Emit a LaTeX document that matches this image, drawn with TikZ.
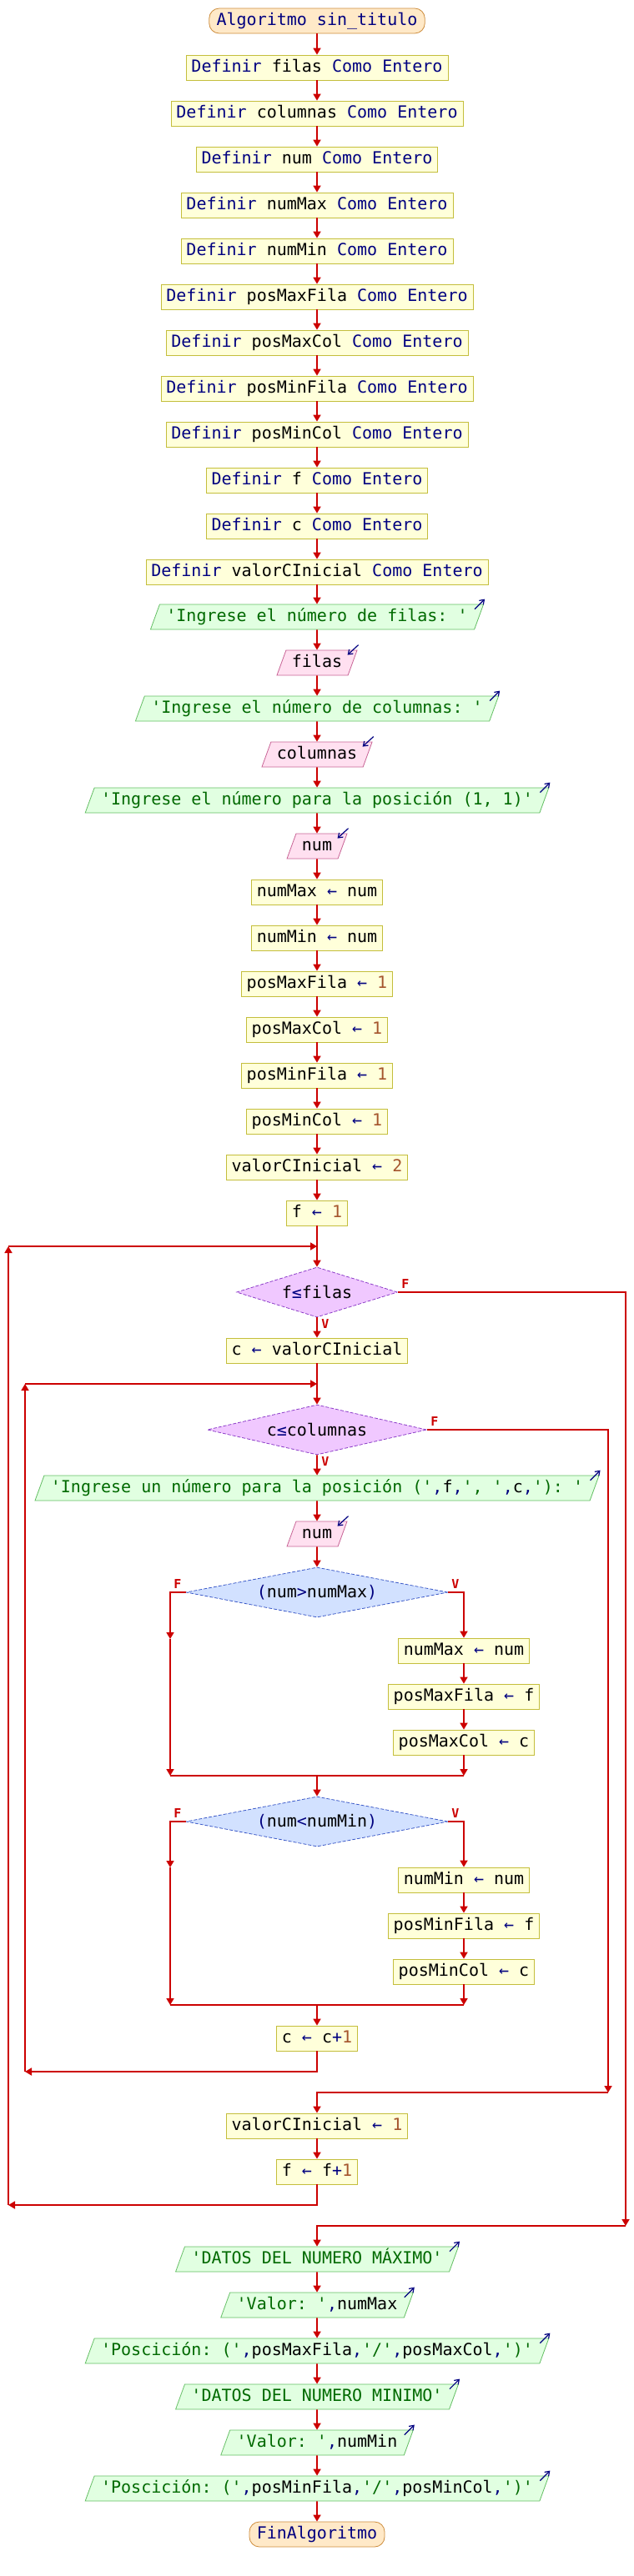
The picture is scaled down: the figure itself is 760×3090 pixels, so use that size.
\documentclass[tikz,border=0pt]{standalone}
\usepackage{fontspec}
\setmonofont{DejaVu Sans Mono}
\usepackage{tikz}
\usetikzlibrary{arrows.meta, shapes.geometric}
\usepackage{xcolor}
\definecolor{flowred}{RGB}{204,0,0}
\definecolor{kwblue}{RGB}{0,0,128}
\definecolor{strgreen}{RGB}{0,105,0}
\definecolor{numbrown}{RGB}{165,85,45}
\definecolor{procfill}{RGB}{255,255,218}
\definecolor{procborder}{RGB}{196,190,60}
\definecolor{termfill}{RGB}{255,233,200}
\definecolor{termborder}{RGB}{205,140,60}
\definecolor{outfill}{RGB}{225,255,225}
\definecolor{outborder}{RGB}{100,190,100}
\definecolor{infill}{RGB}{255,224,240}
\definecolor{inborder}{RGB}{200,100,150}
\definecolor{loopfill}{RGB}{240,200,255}
\definecolor{loopborder}{RGB}{140,60,200}
\definecolor{iffill}{RGB}{210,225,255}
\definecolor{ifborder}{RGB}{60,90,200}
\newcommand{\kwd}[1]{\textcolor{kwblue}{#1}}
\newcommand{\numv}[1]{\textcolor{numbrown}{#1}}
\newcommand{\varn}[1]{\textcolor{black}{#1}}
\newcommand{\asig}{\textcolor{kwblue}{←}}

\begin{document}
\begin{tikzpicture}[x=0.5pt, y=-0.5pt,
  font=\ttfamily,
  base/.style={text height=7.5pt, text depth=2.5pt, inner ysep=2.5pt},
  term/.style={base, draw=termborder, fill=termfill, rounded corners=6pt,
               inner xsep=4.4pt, text=kwblue},
  proc/.style={base, draw=procborder, fill=procfill, inner xsep=3.2pt},
  outp/.style={base, trapezium, trapezium left angle=70, trapezium right angle=110,
               draw=outborder, fill=outfill, inner xsep=4pt, text=strgreen},
  inp/.style={base, trapezium, trapezium left angle=70, trapezium right angle=110,
              draw=inborder, fill=infill, inner xsep=3.5pt},
  loopd/.style={diamond, aspect=4, inner sep=0pt, minimum height=30pt,
                draw=loopborder, fill=loopfill, dash pattern=on 2pt off 1pt},
  ifd/.style={diamond, aspect=4, inner sep=0pt, minimum height=30pt,
              draw=ifborder, fill=iffill, dash pattern=on 2pt off 1pt},
  flow/.style={draw=flowred, line width=0.85pt, -{Triangle[length=4pt,width=4.5pt]}},
  link/.style={draw=flowred, line width=0.85pt},
  lbl/.style={text=flowred, font=\ttfamily\bfseries\fontsize{7.5}{8}\selectfont, inner sep=0pt},
  outmark/.style={draw=kwblue, line width=0.6pt, -{Straight Barb[length=2.5pt,width=3.5pt]}},
]
\path[use as bounding box, fill=white] (0,0) rectangle (760,3090);

% declarations
\node[term] (inicio) at (380,25) {Algoritmo sin\_titulo};
\node[proc] (def1) at (380,81) {\kwd{Definir} filas \kwd{Como Entero}};
\node[proc] (def2) at (380,136) {\kwd{Definir} columnas \kwd{Como Entero}};
\node[proc] (def3) at (380,191) {\kwd{Definir} num \kwd{Como Entero}};
\node[proc] (def4) at (380,246) {\kwd{Definir} numMax \kwd{Como Entero}};
\node[proc] (def5) at (380,301) {\kwd{Definir} numMin \kwd{Como Entero}};
\node[proc] (def6) at (380,356) {\kwd{Definir} posMaxFila \kwd{Como Entero}};
\node[proc] (def7) at (380,411) {\kwd{Definir} posMaxCol \kwd{Como Entero}};
\node[proc] (def8) at (380,466) {\kwd{Definir} posMinFila \kwd{Como Entero}};
\node[proc] (def9) at (380,521) {\kwd{Definir} posMinCol \kwd{Como Entero}};
\node[proc] (def10) at (380,576) {\kwd{Definir} f \kwd{Como Entero}};
\node[proc] (def11) at (380,631) {\kwd{Definir} c \kwd{Como Entero}};
\node[proc] (def12) at (380,686) {\kwd{Definir} valorCInicial \kwd{Como Entero}};

% reading the sizes
\node[outp] (out1) at (380,740) {'Ingrese el número de filas: '};
\node[inp] (in1) at (380,795) {filas};
\node[outp] (out2) at (380,850) {'Ingrese el número de columnas: '};
\node[inp] (in2) at (380,905) {columnas};
\node[outp] (out3) at (380,960) {'Ingrese el número para la posición (1, 1)'};
\node[inp] (in3) at (380,1015) {num};

% initial values
\node[proc] (ini1) at (380,1070) {numMax \asig{} num};
\node[proc] (ini2) at (380,1125) {numMin \asig{} num};
\node[proc] (ini3) at (380,1180) {posMaxFila \asig{} \numv{1}};
\node[proc] (ini4) at (380,1235) {posMaxCol \asig{} \numv{1}};
\node[proc] (ini5) at (380,1290) {posMinFila \asig{} \numv{1}};
\node[proc] (ini6) at (380,1345) {posMinCol \asig{} \numv{1}};
\node[proc] (ini7) at (380,1400) {valorCInicial \asig{} \numv{2}};
\node[proc] (ini8) at (380,1455) {f \asig{} \numv{1}};

% loops
\coordinate (join1) at (380,1495);
\node[loopd, minimum width=96.5pt] (mientrasf) at (380,1550) {f\kwd{≤}filas};
\node[proc] (setc) at (380,1620) {c \asig{} valorCInicial};
\coordinate (join2) at (380,1660);
\node[loopd, minimum width=131.5pt] (mientrasc) at (380,1715) {c\kwd{≤}columnas};
\node[outp] (out4) at (380,1785) {'Ingrese un número para la posición ('\kwd{,}\varn{f}\kwd{,}', '\kwd{,}\varn{c}\kwd{,}'): '};
\node[inp] (in4) at (380,1840) {num};

% first condition
\node[ifd, minimum width=157pt] (simax) at (380,1910) {\kwd{(}num\kwd{>}numMax\kwd{)}};
\node[proc] (max1) at (556,1980) {numMax \asig{} num};
\node[proc] (max2) at (556,2035) {posMaxFila \asig{} f};
\node[proc] (max3) at (556,2090) {posMaxCol \asig{} c};
\coordinate (maxf) at (204,1966);
\coordinate (maxl) at (204,2130);
\coordinate (maxr) at (556,2130);
\coordinate (maxm) at (380,2130);

% second condition
\node[ifd, minimum width=157pt] (simin) at (380,2185) {\kwd{(}num\kwd{<}numMin\kwd{)}};
\node[proc] (min1) at (556,2255) {numMin \asig{} num};
\node[proc] (min2) at (556,2310) {posMinFila \asig{} f};
\node[proc] (min3) at (556,2365) {posMinCol \asig{} c};
\coordinate (minf) at (204,2240);
\coordinate (minl) at (204,2405);
\coordinate (minr) at (556,2405);
\coordinate (minm) at (380,2405);

\node[proc] (incc) at (380,2445) {c \asig{} c\kwd{+}\numv{1}};
\coordinate (backc1) at (30,2485);
\coordinate (backc2) at (30,1660);
\coordinate (exitc) at (729,2510);
\node[proc] (resetc) at (380,2550) {valorCInicial \asig{} \numv{1}};
\node[proc] (incf) at (380,2605) {f \asig{} f\kwd{+}\numv{1}};
\coordinate (backf1) at (10,2645);
\coordinate (backf2) at (10,1495);
\coordinate (exitf) at (750,2670);

% results
\node[outp] (out5) at (380,2710) {'DATOS DEL NUMERO MÁXIMO'};
\node[outp] (out6) at (380,2765) {'Valor: '\kwd{,}\varn{numMax}};
\node[outp] (out7) at (380,2820) {'Poscición: ('\kwd{,}\varn{posMaxFila}\kwd{,}'/'\kwd{,}\varn{posMaxCol}\kwd{,}')'};
\node[outp] (out8) at (380,2875) {'DATOS DEL NUMERO MINIMO'};
\node[outp] (out9) at (380,2930) {'Valor: '\kwd{,}\varn{numMin}};
\node[outp] (out10) at (380,2985) {'Poscición: ('\kwd{,}\varn{posMinFila}\kwd{,}'/'\kwd{,}\varn{posMinCol}\kwd{,}')'};
\node[term] (fin) at (380,3040) {FinAlgoritmo};

% branch labels
\node[lbl] (fF) at (486,1540) {F};
\node[lbl] (fV) at (390,1588) {V};
\node[lbl] (cF) at (521,1705) {F};
\node[lbl] (cV) at (390,1753) {V};
\node[lbl] (maxF) at (213,1900) {F};
\node[lbl] (maxV) at (546,1900) {V};
\node[lbl] (minF) at (213,2175) {F};
\node[lbl] (minV) at (546,2175) {V};

% straight flow
\draw[flow] (inicio) -- (def1);
\draw[flow] (def1) -- (def2);
\draw[flow] (def2) -- (def3);
\draw[flow] (def3) -- (def4);
\draw[flow] (def4) -- (def5);
\draw[flow] (def5) -- (def6);
\draw[flow] (def6) -- (def7);
\draw[flow] (def7) -- (def8);
\draw[flow] (def8) -- (def9);
\draw[flow] (def9) -- (def10);
\draw[flow] (def10) -- (def11);
\draw[flow] (def11) -- (def12);
\draw[flow] (def12) -- (out1);
\draw[flow] (out1) -- (in1);
\draw[flow] (in1) -- (out2);
\draw[flow] (out2) -- (in2);
\draw[flow] (in2) -- (out3);
\draw[flow] (out3) -- (in3);
\draw[flow] (in3) -- (ini1);
\draw[flow] (ini1) -- (ini2);
\draw[flow] (ini2) -- (ini3);
\draw[flow] (ini3) -- (ini4);
\draw[flow] (ini4) -- (ini5);
\draw[flow] (ini5) -- (ini6);
\draw[flow] (ini6) -- (ini7);
\draw[flow] (ini7) -- (ini8);
\draw[link] (ini8) -- (join1);
\draw[flow] (join1) -- (mientrasf.north);
\draw[flow] (mientrasf.south) -- (setc);
\draw[link] (setc) -- (join2);
\draw[flow] (join2) -- (mientrasc.north);
\draw[flow] (mientrasc.south) -- (out4);
\draw[flow] (out4) -- (in4);
\draw[flow] (in4) -- (simax.north);

% first condition
\draw[flow] (simax.east) -| (max1.north);
\draw[flow] (max1) -- (max2);
\draw[flow] (max2) -- (max3);
\draw[flow] (max3) -- (maxr);
\draw[flow] (simax.west) -| (maxf);
\draw[flow] (maxf) -- (maxl);
\draw[link] (maxl) -- (maxr);
\draw[flow] (maxm) -- (simin.north);

% second condition
\draw[flow] (simin.east) -| (min1.north);
\draw[flow] (min1) -- (min2);
\draw[flow] (min2) -- (min3);
\draw[flow] (min3) -- (minr);
\draw[flow] (simin.west) -| (minf);
\draw[flow] (minf) -- (minl);
\draw[link] (minl) -- (minr);
\draw[flow] (minm) -- (incc);

% loop returns and exits
\draw[flow] (incc.south) |- (backc1);
\draw[flow] (backc1) -- (backc2);
\draw[flow] (backc2) -- (join2);
\draw[flow] (mientrasc.east) -| (exitc);
\draw[flow] (exitc) -| (resetc.north);
\draw[flow] (resetc) -- (incf);
\draw[flow] (incf.south) |- (backf1);
\draw[flow] (backf1) -- (backf2);
\draw[flow] (backf2) -- (join1);
\draw[flow] (mientrasf.east) -| (exitf);
\draw[flow] (exitf) -| (out5.north);
\draw[flow] (out5) -- (out6);
\draw[flow] (out6) -- (out7);
\draw[flow] (out7) -- (out8);
\draw[flow] (out8) -- (out9);
\draw[flow] (out9) -- (out10);
\draw[flow] (out10) -- (fin);

% input / output marks
\foreach \o in {out1,out2,out3,out4,out5,out6,out7,out8,out9,out10}
  \draw[outmark] ([shift={(-11,6)}]\o.top right corner) -- ([shift={(1,-6)}]\o.top right corner);
\foreach \i in {in1,in2,in3,in4}
  \draw[outmark] ([shift={(1,-6)}]\i.top right corner) -- ([shift={(-12,6)}]\i.top right corner);
\end{tikzpicture}
\end{document}
